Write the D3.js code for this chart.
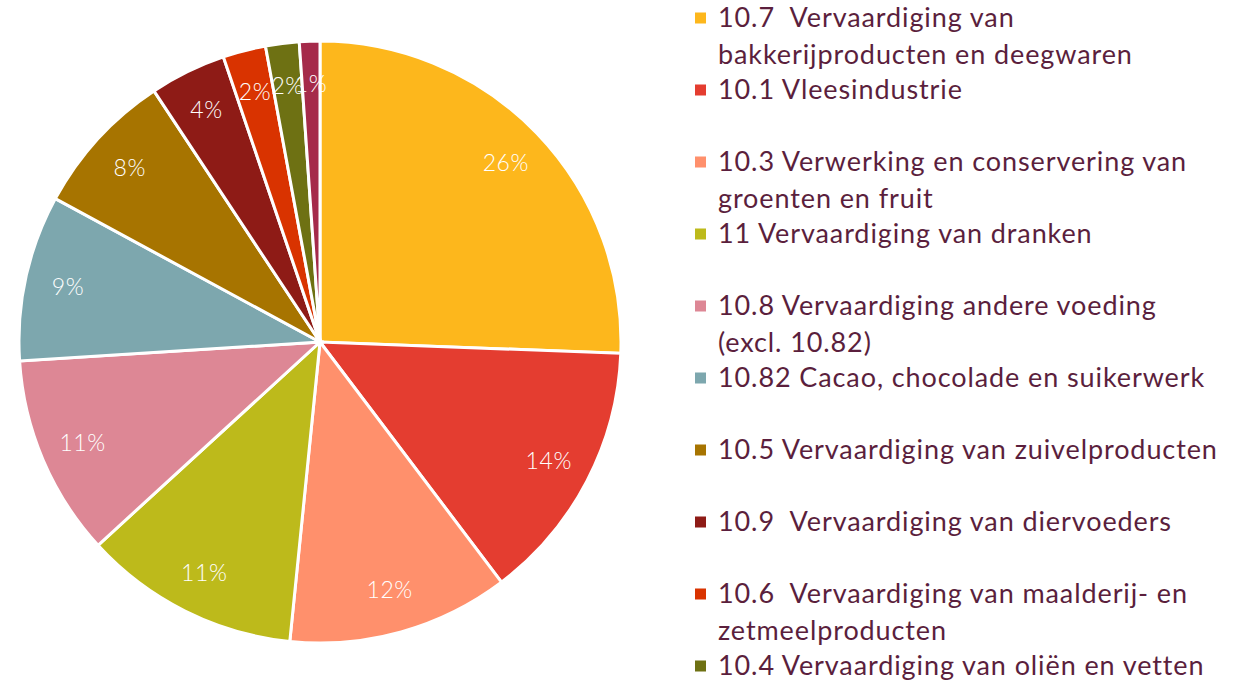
<!DOCTYPE html>
<html>
<head>
<meta charset="utf-8">
<script src="https://cdn.jsdelivr.net/npm/d3@7"></script>
<style>
  body { margin: 0; background: #fff; overflow: hidden; }
</style>
</head>
<body>
<div class="canvas"></div>
<script>
// data
const categories = [
  ['10.7  Vervaardiging van', 'bakkerijproducten en deegwaren'],
  ['10.1 Vleesindustrie'],
  ['10.3 Verwerking en conservering van', 'groenten en fruit'],
  ['11 Vervaardiging van dranken'],
  ['10.8 Vervaardiging andere voeding', '(excl. 10.82)'],
  ['10.82 Cacao, chocolade en suikerwerk'],
  ['10.5 Vervaardiging van zuivelproducten'],
  ['10.9  Vervaardiging van diervoeders'],
  ['10.6  Vervaardiging van maalderij- en', 'zetmeelproducten'],
  ['10.4 Vervaardiging van oliën en vetten'],
  ['10.2 Verwerking en conservering van vis']
];
const values = [25.6, 14.1, 11.9, 11.6, 10.8, 8.9, 7.8, 4.1, 2.3, 1.8, 1.1];
const labels = ['26%', '14%', '12%', '11%', '11%', '9%', '8%', '4%', '2%', '2%', '1%'];
const colors = ['#FDB71C', '#E43D30', '#FF906C', '#BDBA1B', '#DD8795', '#7DA7AE',
                '#A77400', '#8E1B16', '#D93300', '#6E7113', '#A52A4A'];

const width = 1247, height = 681;
const svg = d3.select('.canvas')
  .append('svg')
    .attr('width', width)
    .attr('height', height)
    .style('font-family', 'Lato, "Open Sans", sans-serif');

const radius = 301;
const pieGroup = svg.append('g')
  .attr('transform', `translate(320, 342)`);

const pie = d3.pie().sort(null).value(d => d);
const arc = d3.arc().innerRadius(0).outerRadius(radius);
const labelArc = d3.arc().innerRadius(258).outerRadius(258);

const arcs = pie(values);

pieGroup.selectAll('path')
  .data(arcs)
  .enter()
  .append('path')
    .attr('d', arc)
    .attr('fill', (d, i) => colors[i])
    .attr('stroke', '#fff')
    .attr('stroke-width', 3);

pieGroup.selectAll('text')
  .data(arcs)
  .enter()
  .append('text')
    .attr('transform', d => `translate(${labelArc.centroid(d)})`)
    .attr('text-anchor', 'middle')
    .attr('dy', '0.35em')
    .attr('fill', '#fff')
    .style('font-size', '23px')
    .style('font-weight', 300)
    .style('letter-spacing', '0.6px')
    .text((d, i) => labels[i]);

// legend (11th entry falls below the visible area, as in the original)
const legend = svg.append('g')
  .attr('transform', 'translate(695, 18)');

const items = legend.selectAll('g')
  .data(categories)
  .enter()
  .append('g')
    .attr('transform', (d, i) => `translate(0, ${i * 72})`);

items.append('rect')
  .attr('x', 0)
  .attr('y', -5.5)
  .attr('width', 11)
  .attr('height', 11)
  .attr('fill', (d, i) => colors[i]);

items.each(function(d) {
  const t = d3.select(this).append('text')
    .attr('fill', '#5B1F3D')
    .style('font-size', '27px')
    .style('letter-spacing', '0.9px');
  d.forEach((line, j) => {
    t.append('tspan')
      .attr('x', 23)
      .attr('y', j * 36.5)
      .attr('dy', '0.35em')
      .style('white-space', 'pre')
      .text(line);
  });
});
</script>
</body>
</html>
